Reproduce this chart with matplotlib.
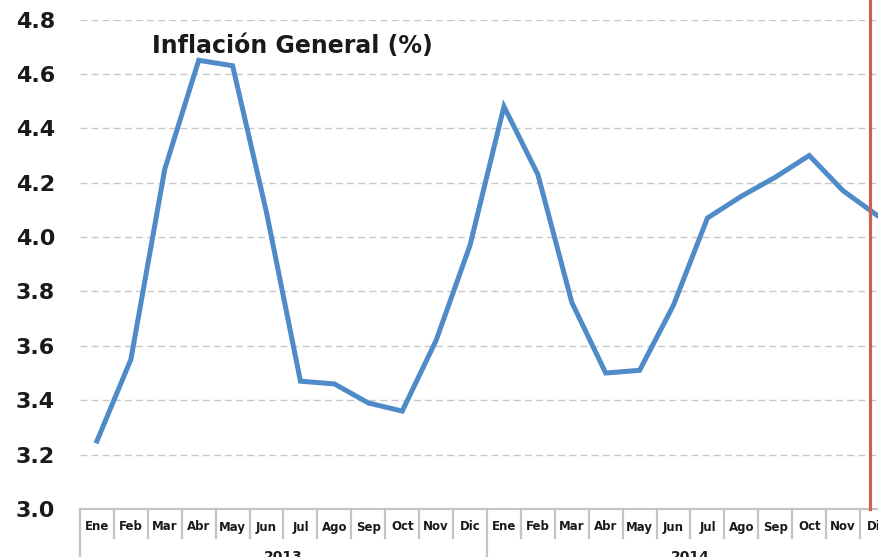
import matplotlib
matplotlib.use("Agg")
import matplotlib.pyplot as plt
import matplotlib.transforms as mtransforms

# monthly inflation, Ene 2013 .. Dic 2014
months = ["Ene", "Feb", "Mar", "Abr", "May", "Jun",
          "Jul", "Ago", "Sep", "Oct", "Nov", "Dic"]
years = ["2013", "2014"]
inflation = [3.25, 3.55, 4.25, 4.65, 4.63, 4.09, 3.47, 3.46, 3.39, 3.36, 3.62, 3.97,
             4.48, 4.23, 3.76, 3.50, 3.51, 3.75, 4.07, 4.15, 4.22, 4.30, 4.17, 4.08]
yticks = [3.0, 3.2, 3.4, 3.6, 3.8, 4.0, 4.2, 4.4, 4.6, 4.8]
title = "Inflación General (%)"
marker_pos = 22.8  # red vertical marker, in month-index units

W, H = 879, 557
fig = plt.figure(figsize=(W / 100, H / 100), dpi=100)
ax_left, ax_right, ax_bottom, ax_top = 80, 894, 509, 19.5
ax = fig.add_axes([ax_left / W, 1 - ax_bottom / H,
                   (ax_right - ax_left) / W, (ax_bottom - ax_top) / H])
ax_h = ax_bottom - ax_top

n = len(months) * len(years)
x = list(range(n))
ax.plot(x, inflation, color="#4F8BC9", lw=3.6, solid_joinstyle="miter", zorder=3)
ax.axvline(marker_pos, color="#CD5F55", lw=2.3, zorder=4, clip_on=False,
           ymax=1.05)

ax.set_xlim(-0.5, n - 0.5)
ax.set_ylim(3.0, 4.8)
ax.set_yticks(yticks)
ax.set_yticklabels([f"{v:.1f}" for v in yticks], fontsize=16, fontweight="bold",
                   color="#1a1a1a")
ax.tick_params(axis="y", length=0, pad=18)
ax.set_xticks([])
for v in yticks[1:]:
    ax.axhline(v, color="#C8C8C8", lw=1.0, ls=(0, (5, 3)), zorder=1)

for s in ["top", "right", "left"]:
    ax.spines[s].set_visible(False)
ax.spines["bottom"].set_color("#C4C4C4")
ax.spines["bottom"].set_linewidth(1.5)

# category table below the axis
trans = mtransforms.blended_transform_factory(ax.transData, ax.transAxes)
month_depth = 29 / ax_h
year_depth = 60 / ax_h
for i in range(n + 1):
    depth = year_depth if i % len(months) == 0 else month_depth
    ax.plot([i - 0.5, i - 0.5], [0, -depth], transform=trans, color="#C4C4C4",
            lw=1.6, clip_on=False)
for i in range(n):
    ax.text(i, -18 / ax_h, months[i % len(months)], transform=trans,
            ha="center", va="center", fontsize=8.5, fontweight="bold",
            color="#1a1a1a", clip_on=False)
for k, yr in enumerate(years):
    cx = k * len(months) + (len(months) - 1) / 2
    ax.text(cx, -41 / ax_h, yr, transform=trans, ha="center", va="top",
            fontsize=10, fontweight="bold", color="#1a1a1a", clip_on=False)

fig.text(152 / W, 1 - 46 / H, title, ha="left", va="center", fontsize=17,
         fontweight="bold", color="#1a1a1a")

fig.savefig("out.png", dpi=100)
